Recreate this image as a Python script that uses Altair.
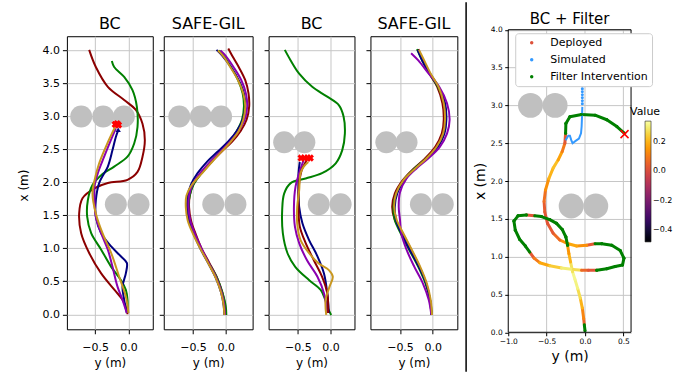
import altair as alt
import pandas as pd

FONT = "DejaVu Sans"
GRID = "#c6c6c6"

# ---------------- shared ticks / styles ----------------
Y_TICKS = [0.0, 0.5, 1.0, 1.5, 2.0, 2.5, 3.0, 3.5, 4.0]
X_TICKS = [-0.5, 0.0]
X5_TICKS = [-1.0, -0.5, 0.0, 0.5]
X5_GRID = [-0.5, 0.0, 0.5]
Y_DOMAIN = [-0.227, 4.217]

SERIES = ["darkred", "green", "navy", "purple", "gold"]
COLORS = ["#8b0000", "#008000", "#000080", "#8a00b0", "#c9971f"]

# ---------------- obstacles ----------------
OBS_A_Y = [-0.71, -0.38, -0.07, -0.19, 0.15]
OBS_A_X = [3.0, 3.0, 3.0, 1.67, 1.67]
OBS_B_Y = [-0.71, -0.40, -0.18, 0.155]
OBS_B_X = [2.61, 2.61, 1.67, 1.67]
OBS_C_Y = [-0.71, -0.39, -0.18, 0.14]
OBS_C_X = [3.0, 3.0, 1.67, 1.67]

# ---------------- panel 1: BC ----------------
BC1_DARKRED_Y = [-0.59, -0.49, -0.31, -0.065, 0.11, 0.21, 0.245, 0.21, 0.135, -0.015, -0.31, -0.51, -0.69, -0.74, -0.71, -0.59, -0.41, -0.21, -0.09, -0.025, -0.015]
BC1_DARKRED_X = [4.01, 3.75, 3.45, 3.25, 3.10, 2.89, 2.64, 2.39, 2.16, 2.04, 1.99, 1.91, 1.76, 1.53, 1.23, 0.93, 0.62, 0.37, 0.22, 0.07, 0.0]
BC1_GREEN_Y = [-0.25, -0.215, -0.065, 0.06, 0.125, 0.135, 0.085, -0.015, -0.215, -0.41, -0.54, -0.61, -0.62, -0.56, -0.41, -0.26, -0.115, -0.04, -0.015, -0.015]
BC1_GREEN_X = [3.84, 3.75, 3.60, 3.40, 3.15, 2.84, 2.59, 2.39, 2.24, 2.11, 1.96, 1.73, 1.48, 1.23, 0.98, 0.72, 0.52, 0.37, 0.22, 0.02]
BC1_NAVY_Y = [-0.025, -0.065, -0.09, -0.04, -0.025, -0.115, -0.26, -0.41, -0.49, -0.49, -0.44, -0.31, -0.24, -0.19, -0.155]
BC1_NAVY_X = [0.02, 0.22, 0.42, 0.62, 0.78, 0.88, 1.03, 1.23, 1.48, 1.73, 1.99, 2.24, 2.49, 2.69, 2.79]
BC1_PURPLE_Y = [-0.025, -0.09, -0.165, -0.24, -0.31, -0.41, -0.49, -0.51, -0.51, -0.46, -0.365, -0.265, -0.19]
BC1_PURPLE_X = [0.02, 0.22, 0.42, 0.72, 0.98, 1.23, 1.48, 1.73, 1.94, 2.14, 2.39, 2.64, 2.82]
BC1_GOLD_Y = [0.0, -0.04, -0.14, -0.26, -0.39, -0.49, -0.54, -0.51, -0.44, -0.34, -0.25, -0.2]
BC1_GOLD_X = [0.02, 0.27, 0.57, 0.93, 1.23, 1.53, 1.83, 2.03, 2.29, 2.54, 2.74, 2.84]
BC1_HIT_Y = [-0.20, -0.17, -0.15]
BC1_HIT_X = [2.88, 2.89, 2.87]

# ---------------- panel 2: SAFE-GIL ----------------
SG1_DARKRED_Y = [0.04, 0.10, 0.20, 0.30, 0.35, 0.36, 0.32, 0.23, 0.10, -0.06, -0.22, -0.38, -0.50, -0.55, -0.56, -0.53, -0.46, -0.37, -0.25, -0.13, -0.05, -0.01, 0.0]
SG1_DARKRED_X = [4.03, 3.92, 3.75, 3.55, 3.35, 3.15, 2.95, 2.78, 2.62, 2.47, 2.31, 2.13, 1.96, 1.80, 1.62, 1.42, 1.22, 1.00, 0.78, 0.55, 0.33, 0.13, -0.01]
SG1_GREEN_Y = [-0.10, -0.03, 0.08, 0.19, 0.26, 0.28, 0.25, 0.17, 0.06, -0.08, -0.22, -0.37, -0.49, -0.55, -0.57, -0.55, -0.48, -0.38, -0.26, -0.13, -0.05, 0.0, 0.01]
SG1_GREEN_X = [4.00, 3.92, 3.75, 3.55, 3.35, 3.15, 2.95, 2.78, 2.62, 2.47, 2.31, 2.14, 1.97, 1.80, 1.62, 1.42, 1.22, 1.00, 0.78, 0.55, 0.33, 0.13, -0.01]
SG1_NAVY_Y = [-0.14, -0.05, 0.08, 0.20, 0.28, 0.30, 0.26, 0.17, 0.04, -0.12, -0.28, -0.43, -0.53, -0.58, -0.59, -0.56, -0.49, -0.39, -0.27, -0.15, -0.07, -0.03, -0.02]
SG1_NAVY_X = [4.01, 3.92, 3.75, 3.55, 3.35, 3.15, 2.95, 2.78, 2.62, 2.47, 2.32, 2.14, 1.97, 1.80, 1.62, 1.42, 1.22, 1.00, 0.78, 0.55, 0.33, 0.13, -0.01]
SG1_PURPLE_Y = [-0.08, 0.0, 0.12, 0.24, 0.31, 0.33, 0.29, 0.20, 0.07, -0.08, -0.24, -0.40, -0.51, -0.56, -0.57, -0.54, -0.47, -0.37, -0.26, -0.14, -0.06, -0.02, -0.01]
SG1_PURPLE_X = [4.00, 3.92, 3.75, 3.55, 3.35, 3.15, 2.95, 2.78, 2.62, 2.47, 2.31, 2.13, 1.96, 1.80, 1.62, 1.42, 1.22, 1.00, 0.78, 0.55, 0.33, 0.13, -0.01]
SG1_GOLD_Y = [-0.12, -0.04, 0.07, 0.19, 0.27, 0.30, 0.27, 0.20, 0.08, -0.06, -0.21, -0.37, -0.52, -0.60, -0.61, -0.58, -0.50, -0.39, -0.27, -0.15, -0.07, -0.03, -0.02]
SG1_GOLD_X = [4.00, 3.92, 3.75, 3.55, 3.35, 3.15, 2.95, 2.78, 2.62, 2.47, 2.31, 2.13, 1.96, 1.80, 1.62, 1.42, 1.22, 1.00, 0.78, 0.55, 0.33, 0.13, -0.01]

# ---------------- panel 3: BC ----------------
BC2_GREEN_Y = [-0.70, -0.61, -0.48, -0.28, -0.05, 0.13, 0.20, 0.22, 0.18, 0.08, -0.13, -0.38, -0.61, -0.71, -0.74, -0.73, -0.66, -0.54, -0.33, -0.15, -0.08, -0.03, 0.01]
BC2_GREEN_X = [4.01, 3.85, 3.65, 3.45, 3.30, 3.17, 3.00, 2.74, 2.49, 2.29, 2.14, 2.06, 1.99, 1.83, 1.58, 1.23, 0.93, 0.72, 0.52, 0.37, 0.22, 0.07, -0.01]
BC2_NAVY_Y = [-0.025, -0.05, -0.10, -0.20, -0.33, -0.43, -0.48, -0.49, -0.49, -0.47]
BC2_NAVY_X = [0.02, 0.32, 0.62, 0.88, 1.13, 1.38, 1.63, 1.88, 2.14, 2.31]
BC2_PURPLE_Y = [-0.05, -0.10, -0.20, -0.36, -0.48, -0.545, -0.56, -0.535, -0.48, -0.43, -0.41]
BC2_PURPLE_X = [0.02, 0.32, 0.57, 0.82, 1.08, 1.33, 1.63, 1.94, 2.14, 2.29, 2.34]
BC2_DARKRED_Y = [-0.035, -0.05, -0.13, -0.255, -0.38, -0.47, -0.49, -0.485, -0.44, -0.38, -0.36]
BC2_DARKRED_X = [0.02, 0.32, 0.57, 0.82, 1.08, 1.33, 1.63, 1.94, 2.19, 2.31, 2.35]
BC2_GOLD_Y = [-0.065, -0.075, -0.015, 0.035, -0.025, -0.18, -0.33, -0.46, -0.51, -0.51, -0.48, -0.46, -0.41, -0.34]
BC2_GOLD_X = [-0.01, 0.22, 0.42, 0.57, 0.67, 0.77, 0.93, 1.13, 1.38, 1.63, 1.88, 2.14, 2.24, 2.31]
BC2_HIT_Y = [-0.45, -0.40, -0.35, -0.31]
BC2_HIT_X = [2.37, 2.37, 2.37, 2.37]

# ---------------- panel 4: SAFE-GIL ----------------
SG2_DARKRED_Y = [-0.22, -0.15, -0.05, 0.07, 0.15, 0.17, 0.14, 0.04, -0.12, -0.30, -0.46, -0.58, -0.62, -0.58, -0.46, -0.33, -0.20, -0.10, -0.04, -0.02]
SG2_DARKRED_X = [4.02, 3.85, 3.65, 3.45, 3.20, 2.95, 2.74, 2.54, 2.36, 2.20, 2.03, 1.83, 1.63, 1.43, 1.23, 0.98, 0.72, 0.47, 0.22, -0.01]
SG2_GREEN_Y = [-0.24, -0.16, -0.05, 0.08, 0.18, 0.20, 0.17, 0.07, -0.10, -0.28, -0.44, -0.56, -0.60, -0.58, -0.49, -0.36, -0.22, -0.11, -0.04, -0.01]
SG2_GREEN_X = [4.02, 3.85, 3.65, 3.45, 3.20, 2.95, 2.74, 2.54, 2.36, 2.21, 2.04, 1.83, 1.63, 1.43, 1.23, 0.98, 0.72, 0.47, 0.22, -0.01]
SG2_NAVY_Y = [-0.23, -0.16, -0.04, 0.09, 0.19, 0.21, 0.18, 0.08, -0.08, -0.26, -0.42, -0.54, -0.58, -0.56, -0.48, -0.35, -0.21, -0.10, -0.04, -0.02]
SG2_NAVY_X = [4.01, 3.85, 3.65, 3.45, 3.20, 2.95, 2.74, 2.54, 2.37, 2.22, 2.05, 1.84, 1.63, 1.43, 1.23, 0.98, 0.72, 0.47, 0.22, -0.01]
SG2_PURPLE_Y = [-0.33, -0.22, -0.06, 0.10, 0.22, 0.26, 0.22, 0.11, -0.06, -0.24, -0.40, -0.50, -0.52, -0.50, -0.48, -0.40, -0.28, -0.15, -0.06, -0.02]
SG2_PURPLE_X = [3.96, 3.85, 3.65, 3.45, 3.20, 2.95, 2.74, 2.54, 2.37, 2.22, 2.06, 1.85, 1.63, 1.43, 1.23, 0.98, 0.72, 0.47, 0.22, -0.01]
SG2_GOLD_Y = [-0.21, -0.13, -0.03, 0.09, 0.17, 0.19, 0.16, 0.06, -0.10, -0.28, -0.45, -0.56, -0.59, -0.55, -0.45, -0.32, -0.19, -0.09, -0.03, -0.01]
SG2_GOLD_X = [4.01, 3.85, 3.65, 3.45, 3.20, 2.95, 2.74, 2.54, 2.36, 2.20, 2.03, 1.83, 1.63, 1.43, 1.23, 0.98, 0.72, 0.47, 0.22, -0.01]

# ---------------- panel 5: BC + Filter ----------------
# deployed path; value None marks a filter intervention
DEP_Y = [0.0, -0.009, -0.017, -0.035, -0.061, -0.096, -0.131, -0.162, -0.188, -0.21,
         -0.227, -0.249, -0.297, -0.371, -0.459, -0.568, -0.655, -0.764, -0.873, -0.926,
         -0.908, -0.852, -0.777, -0.72, -0.664, -0.59, -0.459, -0.306, -0.153, -0.044,
         0.044, 0.153, 0.284, 0.393, 0.489, 0.507, 0.459, 0.349, 0.218, 0.131,
         0.022, -0.109, -0.218, -0.328, -0.415, -0.489, -0.524, -0.533, -0.515, -0.472,
         -0.415, -0.349, -0.297, -0.262, -0.253, -0.249, -0.197, -0.044, 0.131, 0.284,
         0.415, 0.515]
DEP_X = [0.02, 0.10, 0.18, 0.32, 0.45, 0.58, 0.70, 0.80, 0.93, 1.04,
         1.15, 1.26, 1.36, 1.44, 1.49, 1.53, 1.54, 1.55, 1.54, 1.47,
         1.35, 1.23, 1.14, 1.06, 0.98, 0.92, 0.88, 0.85, 0.83, 0.82,
         0.82, 0.82, 0.84, 0.87, 0.89, 0.98, 1.08, 1.15, 1.17, 1.17,
         1.15, 1.14, 1.17, 1.22, 1.31, 1.44, 1.59, 1.73, 1.88, 2.03,
         2.17, 2.28, 2.39, 2.50, 2.63, 2.76, 2.85, 2.88, 2.87, 2.81,
         2.72, 2.63]
DEP_VAL = [None, 0.05, 0.12, 0.20, 0.27, 0.31, 0.32, 0.28, 0.20, 0.15,
           None, None, None, None, None, None, 0.02, None, None, None,
           None, None, None, 0.03, 0.10, 0.18, 0.24, 0.30, 0.27, 0.06,
           0.02, None, None, None, None, None, None, None, None, 0.03,
           0.14, 0.18, 0.14, 0.07, 0.03, 0.02, 0.04, 0.08, 0.14, 0.20,
           0.22, 0.17, 0.10, 0.03, None, None, None, None, None, None,
           None, None]
SIM_Y = [-0.253, -0.218, -0.197, -0.179, -0.162, -0.122, -0.079, -0.052, -0.044, -0.039, -0.035]
SIM_X = [2.54, 2.60, 2.60, 2.54, 2.50, 2.53, 2.56, 2.63, 2.72, 2.85, 2.98]
SIM_DOT_Y = [-0.035, -0.035, -0.035, -0.035, -0.035, -0.035, -0.035, -0.035, -0.035]
SIM_DOT_X = [3.02, 3.06, 3.10, 3.14, 3.18, 3.22, 3.26, 3.30, 3.33]
END_Y = [0.515]
END_X = [2.62]
VALUE_DOMAIN = [-0.48, 0.34]
VALUE_TICKS = [-0.4, -0.2, 0.0, 0.2]
CATS = ["Deployed", "Simulated", "Filter Intervention"]
CAT_COLORS = ["#dd513a", "#3399ff", "#008000"]

HIDDEN = alt.ViewBackground(strokeOpacity=0, fillOpacity=0)


def one():
    return pd.DataFrame({"z": [0]})


def traj_df(series):
    frames = []
    for name, ys, xs in series:
        frames.append(pd.DataFrame({"series": name, "y": ys, "x": xs, "i": list(range(len(ys)))}))
    return pd.concat(frames, ignore_index=True)


def title_mark(text, x, y, size):
    return alt.Chart(one()).mark_text(text=text, font=FONT, fontSize=size, color="black",
                                      baseline="alphabetic", align="center").encode(
        x=alt.value(x), y=alt.value(y))


def gap(width):
    return alt.Chart(one()).mark_rule(opacity=0).encode(
        x=alt.value(0), y=alt.value(0), y2=alt.value(1)).properties(width=width, height=1, view=HIDDEN)


def panel(title, series, xdom, width, obs_y, obs_x, hit_y=None, hit_x=None, first=False, arrow=None):
    xscale = alt.Scale(domain=xdom, nice=False, zero=False)
    yscale = alt.Scale(domain=Y_DOMAIN, nice=False, zero=False)
    xaxis = alt.Axis(values=X_TICKS, format=".1f", title="y (m)", grid=True, tickSize=4.5,
                     labelPadding=8, labelFontSize=11, titleFontSize=12, titleBaseline="alphabetic",
                     titleY=37.5, labelFlush=False, labelOverlap=False)
    if first:
        yaxis = alt.Axis(values=Y_TICKS, format=".1f", title="x (m)", grid=True, tickSize=4.5,
                         labelPadding=3, labelFontSize=11, titleFontSize=12, titleBaseline="alphabetic",
                         titleX=-39, titleY=149, titleAngle=270, labelOverlap=False)
    else:
        yaxis = alt.Axis(values=Y_TICKS, title=None, labels=False, grid=True, tickSize=4.5)

    def X(f):
        return alt.X(f, type="quantitative", scale=xscale, axis=xaxis)

    def Y(f):
        return alt.Y(f, type="quantitative", scale=yscale, axis=yaxis)

    layers = [
        alt.Chart(pd.DataFrame({"y": obs_y, "x": obs_x})).mark_point(
            shape="circle", filled=True, size=484, color="#c0c0c0", opacity=1).encode(x=X("y"), y=Y("x")),
        alt.Chart(traj_df(series)).mark_line(strokeWidth=2, interpolate="catmull-rom").encode(
            x=X("y"), y=Y("x"), order="i:Q",
            color=alt.Color("series:N", scale=alt.Scale(domain=SERIES, range=COLORS), legend=None)),
    ]
    if arrow is not None:
        layers.append(alt.Chart(pd.DataFrame({"y": [arrow[0]], "x": [arrow[1]]})).mark_point(
            shape="triangle-up", filled=True, size=28, color="#000080", opacity=1).encode(x=X("y"), y=Y("x")))
    if hit_y is not None:
        layers.append(alt.Chart(pd.DataFrame({"y": hit_y, "x": hit_x})).mark_point(
            shape="cross", angle=45, filled=True, size=55, color="#ff0000", opacity=1).encode(x=X("y"), y=Y("x")))
    if first:
        # invisible marker that fixes the left margin of the figure
        layers.append(alt.Chart(one()).mark_rule(opacity=0).encode(
            x=alt.value(-66), y=alt.value(0), y2=alt.value(10)))
    layers.append(title_mark(title, width / 2, -7.7, 16))
    return alt.layer(*layers).properties(width=width, height=293.5)


p1 = panel("BC", [("darkred", BC1_DARKRED_Y, BC1_DARKRED_X), ("green", BC1_GREEN_Y, BC1_GREEN_X),
                  ("navy", BC1_NAVY_Y, BC1_NAVY_X), ("purple", BC1_PURPLE_Y, BC1_PURPLE_X),
                  ("gold", BC1_GOLD_Y, BC1_GOLD_X)],
           [-0.924, 0.364], 86, OBS_A_Y, OBS_A_X, BC1_HIT_Y, BC1_HIT_X, first=True, arrow=(-0.155, 2.80))
p2 = panel("SAFE-GIL", [("darkred", SG1_DARKRED_Y, SG1_DARKRED_X), ("green", SG1_GREEN_Y, SG1_GREEN_X),
                        ("navy", SG1_NAVY_Y, SG1_NAVY_X), ("purple", SG1_PURPLE_Y, SG1_PURPLE_X),
                        ("gold", SG1_GOLD_Y, SG1_GOLD_X)],
           [-0.948, 0.413], 89, OBS_A_Y, OBS_A_X)
p3 = panel("BC", [("green", BC2_GREEN_Y, BC2_GREEN_X), ("navy", BC2_NAVY_Y, BC2_NAVY_X),
                  ("purple", BC2_PURPLE_Y, BC2_PURPLE_X), ("darkred", BC2_DARKRED_Y, BC2_DARKRED_X),
                  ("gold", BC2_GOLD_Y, BC2_GOLD_X)],
           [-0.948, 0.367], 86, OBS_B_Y, OBS_B_X, BC2_HIT_Y, BC2_HIT_X)
p4 = panel("SAFE-GIL", [("darkred", SG2_DARKRED_Y, SG2_DARKRED_X), ("green", SG2_GREEN_Y, SG2_GREEN_X),
                        ("navy", SG2_NAVY_Y, SG2_NAVY_X), ("purple", SG2_PURPLE_Y, SG2_PURPLE_X),
                        ("gold", SG2_GOLD_Y, SG2_GOLD_X)],
           [-0.953, 0.378], 87, OBS_B_Y, OBS_B_X)

# separator cell between the two figure parts
sep = alt.layer(
    alt.Chart(one()).mark_rule(color="black", strokeWidth=1.5).encode(
        x=alt.value(8.8), y=alt.value(-34), y2=alt.value(336)),
    alt.Chart(one()).mark_rule(opacity=0).encode(x=alt.value(0), y=alt.value(-36), y2=alt.value(-30)),
).properties(width=51, height=1, view=HIDDEN)

# ---------------- panel 5 ----------------
W5 = 123
H5 = 296.5
TOP5 = -6.5
xscale5 = alt.Scale(domain=[-1.0, 0.6], nice=False, zero=False)
yscale5 = alt.Scale(domain=[0.0, 4.0], range=[H5, TOP5], nice=False, zero=False)
xaxis5 = alt.Axis(values=X5_TICKS, format=".1f", title="y (m)", grid=False, tickSize=3.5, labelPadding=2,
                  labelFontSize=7.5, titleFontSize=14, titleBaseline="alphabetic", titleY=28,
                  labelFlush=False, labelOverlap=False)
yaxis5 = alt.Axis(values=Y_TICKS, format=".1f", title="x (m)", grid=True, tickSize=3.5, labelPadding=2.5,
                  labelFontSize=7.5, titleFontSize=14, titleBaseline="alphabetic", titleX=-23.6,
                  titleAngle=270, labelOverlap=False)


def X5(f):
    return alt.X(f, type="quantitative", scale=xscale5, axis=xaxis5)


def Y5(f):
    return alt.Y(f, type="quantitative", scale=yscale5, axis=yaxis5)


seg_rows = []
for k in range(len(DEP_Y) - 1):
    seg_rows.append({"y0": DEP_Y[k], "x0": DEP_X[k], "y1": DEP_Y[k + 1], "x1": DEP_X[k + 1],
                     "val": DEP_VAL[k]})
seg = pd.DataFrame(seg_rows)
seg_val = seg[seg["val"].notna()].copy()
seg_int = seg[seg["val"].isna()].copy()

dots = pd.DataFrame({
    "y": [y for y, v in zip(DEP_Y, DEP_VAL) if v is None] + SIM_DOT_Y,
    "x": [x for x, v in zip(DEP_X, DEP_VAL) if v is None] + SIM_DOT_X,
    "cat": ["Filter Intervention"] * sum(1 for v in DEP_VAL if v is None) + ["Simulated"] * len(SIM_DOT_Y),
})

grid5 = alt.Chart(pd.DataFrame({"g": X5_GRID})).mark_rule(color=GRID, strokeWidth=1).encode(
    x=X5("g"), y=alt.value(TOP5), y2=alt.value(H5))
obs5 = alt.Chart(pd.DataFrame({"y": OBS_C_Y, "x": OBS_C_X})).mark_point(
    shape="circle", filled=True, size=625, color="#c0c0c0", opacity=1).encode(x=X5("y"), y=Y5("x"))
dep5 = alt.Chart(seg_val).mark_rule(strokeWidth=3, strokeCap="round").encode(
    x=X5("y0"), x2=alt.X2("y1"), y=Y5("x0"), y2=alt.Y2("x1"),
    color=alt.Color("val:Q", scale=alt.Scale(scheme="inferno", domain=VALUE_DOMAIN),
                    legend=alt.Legend(title="Value", orient="none", legendX=122, legendY=70,
                                      direction="vertical", gradientLength=121, gradientThickness=6,
                                      values=VALUE_TICKS, format=".1f", labelFontSize=8, labelOffset=2,
                                      labelFont=FONT, labelColor="black", titleFont=FONT,
                                      titleFontSize=11, titleFontWeight="normal", titleColor="black",
                                      titleAnchor="start", titleAlign="center", titlePadding=4,
                                      gradientStrokeColor="#222222", gradientStrokeWidth=0.6, padding=0)))
int5 = alt.Chart(seg_int).mark_rule(strokeWidth=3, strokeCap="round", color="#008000").encode(
    x=X5("y0"), x2=alt.X2("y1"), y=Y5("x0"), y2=alt.Y2("x1"))
sim5 = alt.Chart(pd.DataFrame({"y": SIM_Y, "x": SIM_X, "i": list(range(len(SIM_Y)))})).mark_line(
    strokeWidth=2, color="#3399ff").encode(x=X5("y"), y=Y5("x"), order="i:Q")
dots5 = alt.Chart(dots).mark_circle(size=9, opacity=1).encode(
    x=X5("y"), y=Y5("x"),
    color=alt.Color("cat:N", scale=alt.Scale(domain=CATS, range=CAT_COLORS),
                    legend=alt.Legend(title=None, orient="none", legendX=7, legendY=-3, symbolType="circle",
                                      symbolSize=12, symbolStrokeWidth=0, labelFontSize=11, labelFont=FONT,
                                      labelColor="black", padding=4, fillColor="white",
                                      strokeColor="#cccccc", cornerRadius=3, rowPadding=5,
                                      symbolOffset=7, labelOffset=13, symbolOpacity=1)))
end5 = alt.Chart(pd.DataFrame({"y": END_Y, "x": END_X})).mark_point(
    shape="M-1,-1L1,1M-1,1L1,-1", size=64, strokeWidth=1.5, color="#ff0000", filled=False, opacity=1).encode(
    x=X5("y"), y=Y5("x"))
frame5 = alt.Chart(one()).mark_rect(fillOpacity=0, stroke="black", strokeWidth=1).encode(
    x=alt.value(0), x2=alt.value(W5), y=alt.value(TOP5), y2=alt.value(H5))

p5 = alt.layer(grid5, obs5, dep5, int5, sim5, dots5, end5, frame5,
               title_mark("BC + Filter", W5 / 2, -12, 15)).resolve_scale(
    color="independent").properties(width=W5, height=H5, view=HIDDEN)

chart = alt.hconcat(p1, gap(11), p2, gap(16), p3, gap(16), p4, sep, p5, spacing=0,
                    bounds="flush").resolve_scale(color="independent").properties(
    padding={"left": 0, "top": 0, "right": 0, "bottom": 0}, background="white"
).configure_view(stroke="black", strokeWidth=1).configure_axis(
    labelFont=FONT, titleFont=FONT, labelColor="black", titleColor="black", tickColor="black",
    tickWidth=1, domain=False, gridColor=GRID, gridWidth=1, titleFontWeight="normal")

chart.save("out.html", embed_options={"renderer": "svg", "actions": False})
